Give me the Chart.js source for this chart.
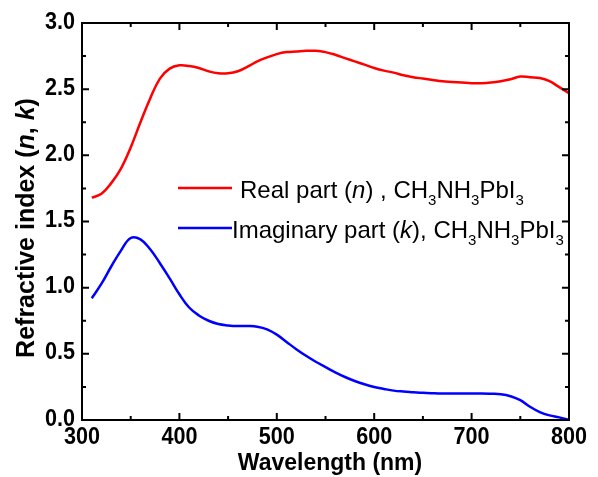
<!DOCTYPE html>
<html>
<head>
<meta charset="utf-8">
<script src="https://cdn.jsdelivr.net/npm/chart.js@4/dist/chart.umd.min.js"></script>
<style>
  body { margin: 0; background: #fff; }
  #wrap { width: 598px; height: 477px; }
</style>
</head>
<body>
<div id="wrap"><canvas id="c" width="598" height="477"></canvas></div>
<script>
const wavelength = [310, 320, 330, 340, 350, 360, 370, 380, 390, 400,
  410, 420, 430, 440, 450, 460, 470, 480, 490, 500,
  510, 520, 530, 540, 550, 560, 570, 580, 590, 600,
  610, 620, 630, 640, 650, 660, 670, 680, 690, 700,
  710, 720, 730, 740, 750, 760, 770, 780, 790, 800]

const realN = [1.68, 1.71, 1.79, 1.90, 2.06, 2.25, 2.43, 2.58, 2.655, 2.68,
  2.675, 2.66, 2.635, 2.62, 2.62, 2.635, 2.67, 2.71, 2.74, 2.765,
  2.78, 2.785, 2.79, 2.79, 2.78, 2.76, 2.735, 2.71, 2.685, 2.66,
  2.64, 2.625, 2.605, 2.59, 2.58, 2.57, 2.56, 2.555, 2.55, 2.545,
  2.545, 2.55, 2.56, 2.575, 2.595, 2.59, 2.585, 2.56, 2.515, 2.47]

const imagK = [0.92, 1.03, 1.16, 1.28, 1.375, 1.365, 1.29, 1.185, 1.07, 0.95,
  0.85, 0.79, 0.75, 0.725, 0.715, 0.71, 0.71, 0.705, 0.685, 0.645,
  0.59, 0.535, 0.485, 0.44, 0.40, 0.36, 0.325, 0.295, 0.27, 0.25,
  0.235, 0.222, 0.215, 0.21, 0.205, 0.202, 0.20, 0.20, 0.20, 0.20,
  0.20, 0.198, 0.195, 0.18, 0.15, 0.10, 0.06, 0.035, 0.02, 0.0]

const xTicks = [300, 400, 500, 600, 700, 800]
const yTicks = [0, 0.5, 1.0, 1.5, 2.0, 2.5, 3.0]

const FONT = '"Liberation Sans", Arial, sans-serif'
const TICK_FONT = 'bold 24px ' + FONT

function pts (ys) {
  return wavelength.map((w, i) => ({ x: w, y: ys[i] }))
}

// draws a run of text pieces (for italics and subscripts)
function rich (ctx, parts, x, y) {
  for (const p of parts) {
    ctx.font = p.font
    ctx.fillText(p.t, x, y + (p.dy || 0))
    x += ctx.measureText(p.t).width
  }
  return x
}

// narrow bold labels, like the condensed face of the original
function narrow (ctx, text, x, y, align) {
  ctx.save()
  ctx.font = TICK_FONT
  ctx.textAlign = align
  ctx.textBaseline = 'middle'
  ctx.translate(x, y)
  ctx.scale(0.9, 1)
  ctx.fillText(text, 0, 0)
  ctx.restore()
}

function formula (size) {
  const n = size + 'px ' + FONT
  const s = Math.round(size * 0.62) + 'px ' + FONT
  return [
    { t: 'CH', font: n }, { t: '3', font: s, dy: 7 },
    { t: 'NH', font: n }, { t: '3', font: s, dy: 7 },
    { t: 'PbI', font: n }, { t: '3', font: s, dy: 7 }
  ]
}

const frame = {
  id: 'frame',
  afterDraw (chart) {
    const { ctx, chartArea: a, scales: { x, y } } = chart
    ctx.save()
    ctx.strokeStyle = '#000'
    ctx.lineWidth = 2
    ctx.strokeRect(a.left, a.top, a.right - a.left, a.bottom - a.top)

    ctx.beginPath()
    for (let v = 300; v <= 800; v += 50) {
      const px = x.getPixelForValue(v)
      const len = v % 100 === 0 ? 7 : 4
      ctx.moveTo(px, a.bottom); ctx.lineTo(px, a.bottom - len)
      ctx.moveTo(px, a.top); ctx.lineTo(px, a.top + len)
    }
    for (let i = 0; i <= 12; i++) {
      const py = y.getPixelForValue(i * 0.25)
      const len = i % 2 === 0 ? 7 : 4
      ctx.moveTo(a.left, py); ctx.lineTo(a.left + len, py)
      ctx.moveTo(a.right, py); ctx.lineTo(a.right - len, py)
    }
    ctx.stroke()

    // tick labels
    ctx.fillStyle = '#000'
    x.ticks.forEach(t => narrow(ctx, String(t.value), x.getPixelForValue(t.value), a.bottom + 17, 'center'))
    y.ticks.forEach(t => narrow(ctx, t.value.toFixed(1), a.left - 7, y.getPixelForValue(t.value) - 1, 'right'))

    // legend
    ctx.textBaseline = 'alphabetic'
    ctx.lineWidth = 2.5
    ctx.strokeStyle = '#ff0000'
    ctx.beginPath(); ctx.moveTo(178, 188); ctx.lineTo(232, 188); ctx.stroke()
    ctx.strokeStyle = '#0000ff'
    ctx.beginPath(); ctx.moveTo(178, 228); ctx.lineTo(232, 228); ctx.stroke()

    const fs = 24
    const reg = fs + 'px ' + FONT
    const ita = 'italic ' + fs + 'px ' + FONT
    rich(ctx, [
      { t: 'Real part (', font: reg }, { t: 'n', font: ita }, { t: ') , ', font: reg }
    ].concat(formula(fs)), 240, 198)
    rich(ctx, [
      { t: 'Imaginary part (', font: reg }, { t: 'k', font: ita }, { t: '), ', font: reg }
    ].concat(formula(fs)), 232, 238)

    // axis titles
    ctx.font = 'bold 23px ' + FONT
    ctx.textAlign = 'center'
    ctx.fillText('Wavelength (nm)', 330, 470)

    const tb = 'bold 25px ' + FONT
    const ti = 'italic bold 25px ' + FONT
    ctx.textAlign = 'left'
    const yParts = [
      { t: 'Refractive index (', font: tb }, { t: 'n', font: ti },
      { t: ', ', font: tb }, { t: 'k', font: ti }, { t: ')', font: tb }
    ]
    let w = 0
    for (const p of yParts) { ctx.font = p.font; w += ctx.measureText(p.t).width }
    ctx.translate(34, 228)
    ctx.rotate(-Math.PI / 2)
    rich(ctx, yParts, -w / 2, 0)
    ctx.restore()
  }
}

const line = { borderWidth: 2.5, pointRadius: 0, tension: 0.4 }

new Chart(document.getElementById('c'), {
  type: 'line',
  data: {
    datasets: [
      { ...line, data: pts(realN), borderColor: '#ff0000' },
      { ...line, data: pts(imagK), borderColor: '#0000ff' }
    ]
  },
  options: {
    responsive: false,
    animation: false,
    layout: { padding: { left: 0, right: 29, top: 23, bottom: 0 } },
    plugins: { legend: { display: false }, tooltip: { enabled: false } },
    scales: {
      x: {
        type: 'linear',
        min: 300,
        max: 800,
        afterBuildTicks: (s) => { s.ticks = xTicks.map(v => ({ value: v })) },
        grid: { display: false, drawTicks: false },
        border: { display: false },
        ticks: { display: false },
        afterFit: (s) => { s.height = 57 }
      },
      y: {
        min: 0,
        max: 3,
        afterBuildTicks: (s) => { s.ticks = yTicks.map(v => ({ value: v })) },
        grid: { display: false, drawTicks: false },
        border: { display: false },
        ticks: { display: false },
        afterFit: (s) => { s.width = 82 }
      }
    }
  },
  plugins: [frame]
})
</script>
</body>
</html>
